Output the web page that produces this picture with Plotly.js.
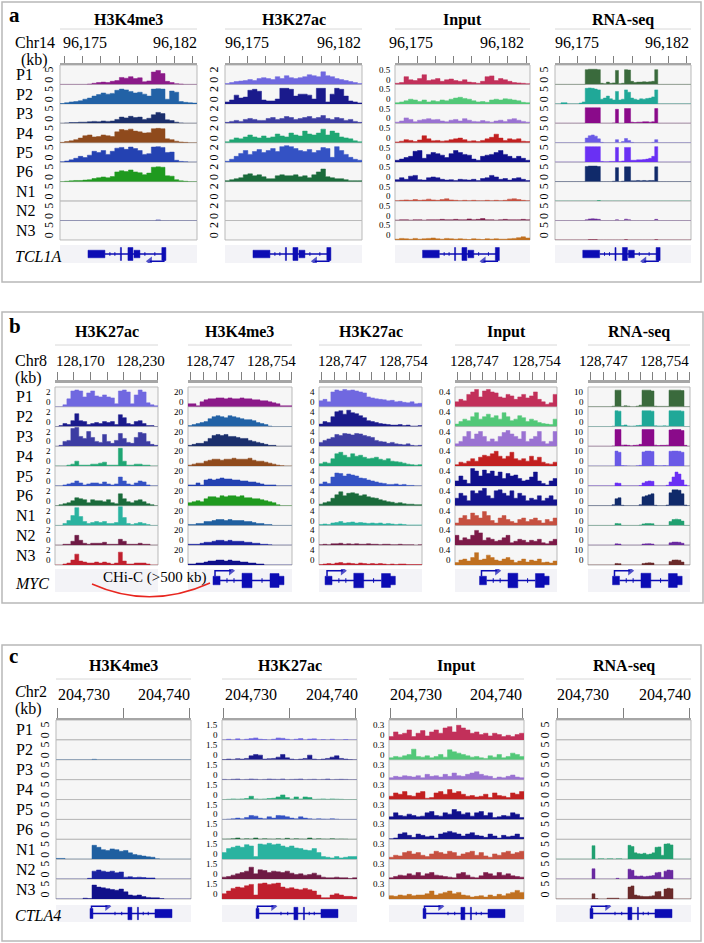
<!DOCTYPE html>
<html><head><meta charset="utf-8">
<script src="https://cdn.plot.ly/plotly-3.0.1.min.js"></script>
<style>html,body{margin:0;padding:0;background:#fff}#chart{width:704px;height:943px}</style>
</head><body><div id="chart"></div>
<script>
// ---------------- DATA ----------------
const rows = ['P1','P2','P3','P4','P5','P6','N1','N2','N3'];

// Panel a (TCL1A, Chr14 96,175-96,182 kb)
const aK4 = [
 [0,0,0,0,0,0,0.1,0.3,0.5,0.6,0.5,0.8,1.0,1.8,1.6,2.0,1.5,1.7,0.7,0.9,3.2,3.6,2.8,0.8,0.5,0.2,0.1,0,0,0],
 [0.1,0.3,0.5,0.6,0.8,1.2,1.5,2.0,2.4,2.8,2.5,2.7,3.5,3.8,3.6,3.2,2.8,3.0,2.5,2.0,3.8,3.9,3.8,1.2,3.3,3.0,0.6,0.4,0.3,0.2],
 [0,0.1,0.2,0.2,0.3,0.3,0.4,0.5,0.4,0.6,0.5,0.6,1.0,1.6,1.4,1.8,1.5,1.6,1.0,1.3,2.2,2.8,2.5,0.9,0.7,0.3,0.1,0,0,0],
 [0.1,0.3,0.5,0.8,1.2,1.8,2.0,1.5,1.6,2.0,1.8,1.6,2.8,3.4,3.2,3.5,3.0,2.8,2.5,2.6,3.6,3.7,3.6,1.0,0.8,0.4,0.2,0.1,0,0],
 [0.1,0.3,0.6,1.0,1.5,1.2,1.8,2.8,2.5,3.0,2.0,2.8,3.6,3.8,3.3,3.9,3.5,3.0,2.0,2.2,3.9,4.0,3.8,2.5,2.6,0.5,0.2,0.1,0,0],
 [0,0.1,0.2,0.3,0.3,0.4,0.5,0.8,1.0,1.2,1.0,1.3,2.5,2.8,2.6,3.0,2.5,2.3,1.8,2.2,3.7,3.8,3.7,1.5,1.4,0.5,0.2,0.1,0,0],
 [],
 [0,0,0,0,0,0,0,0,0,0,0,0,0,0,0,0,0,0,0,0,0,0.15,0,0,0,0,0,0,0,0],
 []
];
const aK27 = [
 [0.1,0.2,0.3,0.35,0.4,0.5,0.4,0.6,0.7,0.6,0.5,0.8,0.6,0.9,0.7,0.6,0.7,0.8,1.0,0.9,0.8,1.3,0.9,0.8,0.6,0.5,0.4,0.3,0.2,0.1],
 [0.2,0.4,0.9,0.6,0.7,1.4,1.5,1.3,0.4,0.3,0.3,0.5,1.6,1.6,1.5,0.8,1.0,1.0,0.9,0.5,1.6,1.6,0.2,1.0,1.6,1.5,0.8,0.3,0.2,0.1],
 [0.1,0.2,0.3,0.2,0.4,0.5,0.4,0.3,0.3,0.5,0.6,0.4,0.5,0.7,0.6,0.4,0.5,0.6,0.7,0.5,0.6,0.8,0.5,0.4,0.6,0.5,0.3,0.4,0.2,0.1],
 [0.1,0.3,0.5,0.4,0.6,0.8,0.6,0.5,0.7,0.5,0.6,0.9,0.7,0.6,1.0,0.8,0.7,1.2,0.9,0.8,1.0,1.4,0.8,1.2,1.0,0.6,0.5,0.4,0.2,0.1],
 [0.1,0.3,0.6,0.9,1.2,0.8,1.1,1.3,1.0,1.2,1.4,1.1,1.6,1.7,1.6,1.4,1.2,1.1,1.3,1.0,1.2,1.5,1.4,0.5,1.6,1.2,0.8,0.5,0.3,0.2],
 [0.1,0.2,0.3,0.4,0.7,0.8,0.6,0.7,0.5,0.3,0.3,0.6,0.7,0.6,0.6,0.7,0.5,0.6,0.4,0.7,1.0,1.3,0.5,0.4,0.3,0.3,0.2,0.1,0.1,0.1],
 [], [], []
];
const aInput = [
 [0.03,0.05,0.2,0.12,0.1,0.15,0.25,0.1,0.12,0.15,0.08,0.12,0.14,0.1,0.08,0.12,0.06,0.05,0.03,0.08,0.2,0.22,0.1,0.15,0.12,0.08,0.05,0.04,0.03,0.02],
 [0.03,0.05,0.08,0.12,0.1,0.06,0.1,0.05,0.08,0.06,0.1,0.08,0.12,0.15,0.17,0.14,0.12,0.08,0.05,0.06,0.04,0.1,0.12,0.1,0.13,0.12,0.1,0.08,0.04,0.03],
 [0.03,0.06,0.14,0.1,0.04,0.08,0.1,0.12,0.09,0.1,0.06,0.04,0.08,0.1,0.06,0.12,0.08,0.05,0.04,0.07,0.05,0.03,0.06,0.08,0.05,0.1,0.12,0.08,0.05,0.03],
 [0.02,0.04,0.08,0.06,0.03,0.07,0.18,0.1,0.05,0.06,0.04,0.05,0.08,0.1,0.12,0.08,0.04,0.05,0.03,0.06,0.1,0.14,0.22,0.12,0.06,0.1,0.08,0.1,0.04,0.03],
 [0.05,0.08,0.12,0.15,0.28,0.3,0.1,0.2,0.25,0.22,0.18,0.12,0.22,0.3,0.25,0.2,0.18,0.08,0.05,0.15,0.18,0.2,0.25,0.3,0.2,0.15,0.1,0.15,0.1,0.05],
 [0.05,0.1,0.06,0.14,0.16,0.05,0.04,0.1,0.12,0.1,0.06,0.04,0.05,0.03,0.06,0.05,0.04,0.06,0.03,0.08,0.1,0.16,0.12,0.06,0.08,0.04,0.08,0.1,0.06,0.03],
 [0.01,0.02,0.03,0.02,0.04,0.02,0.03,0.05,0.03,0.02,0.04,0.06,0.03,0.02,0.01,0.02,0.01,0.02,0.01,0.01,0.02,0.01,0.02,0.01,0.02,0.05,0.06,0.04,0.02,0.01],
 [0.01,0.02,0.02,0.01,0.02,0.02,0.01,0.02,0.02,0.02,0.03,0.02,0.02,0.03,0.02,0.02,0.04,0.02,0.03,0.05,0.02,0.02,0.01,0.02,0.03,0.02,0.02,0.02,0.03,0.02],
 [0.02,0.04,0.03,0.02,0.04,0.02,0.03,0.04,0.05,0.03,0.02,0.04,0.03,0.02,0.03,0.02,0.01,0.03,0.02,0.01,0.03,0.02,0.03,0.02,0.02,0.03,0.04,0.06,0.08,0.05]
];
const aRNA = [
 [0,0,0,0,0,0,0,0,0,0,3.8,3.9,3.9,3.9,3.8,0.3,0.2,0.6,0.3,0.4,3.6,0.2,0.3,3.8,3.7,0.8,0.5,0.6,0.6,0.7,0.6,0.7,0.8,3.8,0,0,0,0,0,0,0,0,0,0,0],
 [0,0,0.3,0.3,0,0,0,0,0.2,0.5,4.0,4.1,4.0,3.8,3.6,1.2,1.5,2.0,1.3,1.0,3.2,1.0,1.2,3.6,3.0,1.5,1.2,1.0,1.3,1.2,1.4,1.5,1.8,3.6,0,0,0,0,0,0,0,0,0,0,0],
 [0,0,0,0,0,0,0,0,0,0,4.0,4.0,4.0,4.0,4.0,0,0,0,0,0.1,3.6,0,0,3.8,3.8,0.3,0.2,0.3,0.3,0.4,0.4,0.3,0.4,3.8,0,0,0,0,0,0,0,0,0,0,0],
 [0,0,0,0,0,0,0,0,0,0,1.2,1.8,2.0,1.7,1.0,0.1,0,0,0,0,0.8,0,0.3,1.1,0.6,0.1,0,0,0,0,0,0,0.1,0.8,0,0,0,0,0,0,0,0,0,0,0],
 [0,0,0,0,0,0,0,0,0,0,4.0,4.0,4.0,4.0,4.0,0.2,0.1,0.1,0.2,0.2,3.8,0.2,0.3,3.8,3.8,0.5,0.5,0.6,0.6,0.7,0.8,1.0,1.5,4.0,0,0,0,0,0,0,0,0,0,0,0],
 [0,0,0,0,0,0,0,0,0,0,3.9,4.0,4.0,4.0,3.9,0,0,0,0,0.1,3.6,0,0.1,3.8,3.8,0.2,0.2,0.3,0.2,0.3,0.2,0.3,0.3,3.8,0,0,0,0,0,0,0,0,0,0,0],
 [0,0,0,0,0,0,0,0,0,0,0,0,0,0,0.15,0,0,0,0,0,0,0,0,0,0,0,0,0,0,0,0,0,0,0,0,0,0,0,0,0,0,0,0,0,0],
 [0,0,0,0,0,0,0,0,0,0,0.2,0.4,0.45,0.4,0.3,0,0,0,0,0,0.2,0,0,0.35,0.2,0,0,0,0,0,0,0,0,0.3,0,0,0,0,0,0,0,0,0,0,0],
 [0,0,0,0,0,0,0,0,0,0,0,0.1,0.1,0.1,0,0,0,0,0,0,0,0,0,0.1,0,0,0,0,0,0,0,0,0,0.1,0,0,0,0,0,0,0,0,0,0,0]
];

// Panel b (MYC, Chr8)
const bK27wide = [
 [0,0,0.2,0.8,1.6,1.7,1.6,1.0,1.4,1.6,1.1,1.0,1.2,1.0,0.9,0.3,1.6,1.7,1.5,0.3,1.2,1.7,1.5,0.4,0.2,0.1],
 [0,0.1,0.3,0.2,0.6,1.3,0.6,0.5,0.2,0.3,0.4,0.3,0.5,0.4,0.5,0.2,1.2,0.9,0.3,0.2,0.5,0.6,0.3,0.1,0.1,0],
 [0,0.1,0.5,0.6,1.8,1.9,1.0,0.8,1.5,0.9,0.5,0.4,1.2,0.5,0.3,0.6,1.3,0.8,0.4,0.3,0.9,1.4,1.3,0.5,0.2,0.1],
 [0,0,0,0.1,0.2,0.5,0.1,0.1,0.1,0.2,0.2,0.3,0.4,0.1,0.1,0.1,1.8,0.5,0.1,0.1,0.2,0.2,0.1,0.1,0,0],
 [0,0,0.1,0.2,0.3,0.5,0.3,0.1,0.2,0.3,0.3,0.2,0.4,0.2,0.1,0.2,0.9,0.5,0.2,0.1,0.3,0.5,0.4,0.1,0,0],
 [0,0.1,0.2,0.3,0.5,0.8,0.7,0.6,0.3,0.6,0.5,0.5,0.4,0.6,0.3,0.2,1.2,0.7,0.4,0.3,0.5,0.6,0.4,0.2,0.1,0],
 [0,0,0.2,0.5,1.0,1.8,0.9,0.4,0.2,0.3,0.4,0.3,0.4,0.2,0.2,0.3,1.9,0.8,0.2,0.1,0.2,0.3,0.2,0.1,0,0],
 [0,0,0.1,0.1,0.4,1.0,0.5,0.2,0.1,0.2,0.2,0.2,0.3,0.1,0.1,0.1,0.6,0.4,0.1,0.1,0.1,0.2,0.1,0.1,0,0],
 [0,0,0.1,0.2,0.5,1.1,0.4,0.3,0.2,0.2,0.3,0.2,0.3,0.2,0.1,0.2,1.3,0.4,0.1,0.1,0.2,0.2,0.2,0.1,0,0]
];
const bK4 = [
 [3,3,1,5,7,8,8,9,9,8,9,8,8,9,8,8,7,7,6,6,5,4,3,1,1,1],
 [1,2,3,4,5,8,10,11,10,9,11,10,9,8,7,7,6,4,3,2,0.5,0,0,0,0,0],
 [1,2,3,3,5,8,11,12,11,12,10,10,9,8,8,6,5,4,3,2,1,1,0,0,0,0],
 [1,2,3,3,5,6,7,7,6,7,7,8,7,7,7,8,6,5,5,4,3,2,1,0.5,0,0],
 [1,1,3,1,6,7,6,7,8,7,7,6,6,5,5,4,4,3,2,1,1,1,0,0,0,0],
 [3,4,5,4,7,9,9,8,10,9,10,10,9,10,8,8,7,7,6,5,4,3,1,0,0,0],
 [1,1,2,2,4,4,5,6,6,5,6,5,5,5,4,4,3,2,2,1,1,0,0,0,0,0],
 [1,1,1,2,3,3,4,5,5,4,5,4,4,4,3,3,2,2,1,1,0.5,0,0,0,0,0],
 [1,1,2,2,3,4,4,5,5,4,5,4,4,3,3,2,2,1,1,0,0,0,0,0,0,0]
];
const bK27 = [
 [1.2,1.5,1.0,3.0,3.4,3.2,3.5,3.3,3.4,3.2,3.0,2.8,2.0,1.8,1.6,1.5,1.4,1.2,1.3,1.0,1.1,0.9,0.8,1.0,0.6,0.7],
 [0.5,1.0,0.8,2.0,3.0,3.2,2.5,3.3,2.8,2.6,2.2,1.8,1.2,1.0,0.8,0.6,0.5,0.4,0.3,0.3,0.4,0.2,0.3,0.1,0.1,0.2],
 [0.8,1.2,1.5,1.8,2.4,2.2,2.6,2.5,2.3,2.6,2.5,2.2,2.0,1.8,1.2,1.0,0.9,0.6,0.8,0.5,0.4,0.3,0.5,0.2,0.1,0.2],
 [0.5,0.8,0.6,1.5,2.5,2.8,2.2,1.8,2.5,2.0,2.2,1.8,1.5,1.6,1.8,1.4,1.2,1.5,1.0,0.9,0.8,0.6,0.4,0.3,0.2,0.3],
 [0.4,0.8,0.5,1.8,2.6,2.5,2.0,2.4,2.2,2.0,1.6,1.5,1.2,1.0,0.8,0.6,0.5,0.3,0.3,0.4,0.2,0.3,0.1,0.1,0,0],
 [0.3,0.6,0.8,1.5,2.2,2.8,2.0,2.5,2.6,2.4,2.0,2.2,1.8,1.6,1.5,1.2,1.0,0.8,0.7,0.5,0.6,0.4,0.3,0.3,0.2,0.2],
 [0.2,0.3,0.2,0.5,0.6,0.8,0.5,0.6,0.7,0.5,0.6,0.5,0.4,0.5,0.4,0.5,0.3,0.4,0.3,0.2,0.3,0.2,0.1,0.1,0.1,0.1],
 [0.1,0.2,0.1,0.3,0.3,0.4,0.2,0.3,0.2,0.3,0.2,0.2,0.3,0.2,0.2,0.1,0.2,0.2,0.1,0.1,0.2,0.1,0.1,0.1,0,0.1],
 [0.1,0.2,0.3,0.2,0.4,0.5,0.3,0.4,0.3,0.2,0.4,0.3,0.2,0.3,0.2,0.3,0.2,0.1,0.2,0.1,0.2,0.2,0.1,0.1,0.1,0.1]
];
const bInput = [
 [0.1,0.15,0.12,0.25,0.3,0.35,0.2,0.32,0.35,0.3,0.28,0.2,0.18,0.25,0.22,0.15,0.2,0.25,0.18,0.22,0.3,0.15,0.1,0.05,0.08,0.25],
 [0.05,0.1,0.15,0.12,0.2,0.28,0.15,0.2,0.25,0.18,0.22,0.15,0.28,0.2,0.12,0.15,0.22,0.18,0.1,0.15,0.12,0.08,0.06,0.05,0.04,0.15],
 [0.05,0.1,0.2,0.3,0.15,0.25,0.3,0.2,0.1,0.15,0.1,0.2,0.28,0.32,0.25,0.2,0.15,0.3,0.1,0.15,0.2,0.3,0.1,0.05,0.1,0.3],
 [0.03,0.08,0.06,0.1,0.15,0.1,0.18,0.22,0.2,0.25,0.3,0.2,0.15,0.2,0.28,0.15,0.12,0.15,0.1,0.2,0.12,0.18,0.08,0.05,0.04,0.08],
 [0.1,0.2,0.12,0.05,0.35,0.3,0.2,0.32,0.25,0.3,0.2,0.28,0.15,0.25,0.2,0.22,0.15,0.1,0.12,0.18,0.28,0.1,0.05,0.02,0.1,0.15],
 [0.15,0.25,0.2,0.1,0.3,0.25,0.3,0.35,0.2,0.15,0.3,0.32,0.25,0.2,0.3,0.15,0.25,0.2,0.1,0.15,0.12,0.2,0.1,0.15,0.2,0.12],
 [0.05,0.15,0.2,0.12,0.25,0.2,0.15,0.28,0.2,0.1,0.05,0.15,0.2,0.12,0.08,0.05,0.12,0.15,0.08,0.12,0.15,0.1,0.05,0.12,0.08,0.15],
 [0.2,0.1,0.15,0.12,0.2,0.3,0.25,0.1,0.15,0.12,0.08,0.1,0.15,0.2,0.05,0.08,0.12,0.1,0.06,0.1,0.08,0.12,0.05,0.03,0.08,0.12],
 [0.05,0.1,0.12,0.08,0.15,0.25,0.1,0.12,0.2,0.15,0.1,0.08,0.12,0.15,0.1,0.05,0.08,0.12,0.06,0.1,0.08,0.12,0.05,0.06,0.04,0.08]
];
const bRNA = [
 [0,0,0,0,0,0,0,0,0.3,8.4,8.4,0.2,0.5,0.3,0,0,0.3,0.8,8.4,8.4,8.4,8.0,0.3,0.2,0.2,0.2,0.2,8.4,8.4,8.4,8.4,8.2,0,0],
 [0,0,0,0,0,0,0,0,0.2,8.0,7.8,0.5,0.8,0.3,0.2,0.3,0.5,0.6,8.0,8.0,8.0,7.8,0.4,0.3,0.3,0.4,0.3,8.0,8.0,8.0,8.0,7.8,0,0],
 [0,0,0,0,0,0,0,0,0.2,8.5,8.5,0.6,0.7,0.5,0.3,0.5,0.6,1.0,8.5,8.5,8.5,8.5,0.6,0.4,0.5,0.5,0.6,8.3,8.5,8.5,8.5,8.0,0.5,0],
 [0,0,0,0,0,0,0,0,0,7.6,7.0,0.3,0.2,0.1,0,0,0.2,0.4,7.2,7.6,7.6,7.4,0.3,0.2,0.2,0.3,0.2,7.5,7.6,7.6,7.5,7.0,0,0],
 [0,0,0,0,0,0,0,0,0,1.5,1.3,0,0,0,0,0,0,0.2,1.5,2.2,2.5,2.3,0,0,0,0,0.3,2.0,4.5,7.0,6.0,3.0,0.5,0],
 [0,0,0,0,0,0,0,0,0.5,3.5,4.0,0.2,0,0,0,0,0,0.5,4.5,5.0,5.5,6.0,0.2,0,0,0,0.3,6.5,8.0,8.0,7.8,6.0,0.3,0],
 [0,0,0,0,0,0,0,0,0,1.0,0.9,0,0,0,0,0,0,0.2,0.8,1.0,1.0,0.9,0,0,0,0,0,2.0,3.0,3.2,3.0,2.2,0,0],
 [0,0,0,0,0,0,0,0,0,0.7,0.6,0,0,0,0,0,0,0,0.6,0.7,0.8,0.6,0,0,0,0,0,1.2,1.6,1.6,1.5,1.0,0,0],
 [0,0,0,0,0,0,0,0,0,0.8,0.7,0,0,0,0,0,0,0,0.8,1.0,1.1,1.0,0,0,0,0,0,1.8,2.5,2.6,2.4,1.5,0,0]
];

// Panel c (CTLA4, Chr2)
const cK4 = [
 [],
 [0,0,0,0,0,0,0,0,0.12,0,0,0,0,0,0,0,0,0,0,0,0,0,0,0,0,0,0,0,0,0],
 [], [], [], [],
 [0.2,0.2,0,0,0,0,0,0,3.5,3.0,2.4,2.2,2.6,2.4,2.0,2.2,1.6,1.2,1.0,0.8,0.6,0.5,0.1,0,0,0,0,0,0,0],
 [0,0,0,0,0,0,0,0.2,2.0,2.3,2.0,1.8,2.0,1.6,1.8,0.5,0.6,0.4,0.5,0.4,0.3,0.3,0,0,0,0,0,0,0,0],
 [0,0,0,0,0,0,0.2,0.1,3.5,3.0,2.8,2.6,2.4,2.2,2.5,1.8,1.0,0.8,1.0,0.6,0.4,0.3,0.3,0.1,0,0,0,0,0,0]
];
const cK27 = [
 [0,0.05,0,0.08,0,0.05,0.1,0.15,0.05,0.02,0,0.05,0.15,0.12,0.05,0,0.05,0.1,0,0.06,0.08,0,0.02,0,0.05,0,0,0.03,0,0],
 [0.02,0.05,0.03,0.08,0.05,0.1,0.3,0.4,0.35,0.05,0.08,0.1,0.2,0.4,0.15,0.05,0.02,0.05,0.1,0.35,0.05,0.02,0.05,0.1,0.2,0.3,0.1,0.05,0.02,0.01],
 [0.02,0,0.03,0.05,0,0.02,0.05,0.03,0,0.02,0.05,0.03,0.02,0.05,0,0.02,0.03,0.05,0,0.02,0.03,0,0.02,0.05,0,0.02,0.03,0.02,0,0],
 [0,0.02,0.05,0.03,0.05,0.08,0.25,0.05,0.03,0.05,0.08,0.1,0.2,0.35,0.15,0.05,0.2,0.05,0.2,0.15,0.02,0.03,0.05,0.02,0.05,0.03,0.02,0,0,0],
 [0,0.02,0.05,0.1,0.05,0.15,0.3,0.25,0.1,0.05,0.2,0.1,0.3,0.28,0.2,0.1,0.05,0.2,0.1,0.05,0.02,0.05,0.03,0.02,0.05,0.02,0,0,0,0],
 [0.02,0.03,0.05,0.1,0.02,0.05,0.03,0.1,0.02,0.05,0.03,0.02,0.05,0.02,0.08,0.02,0.05,0.03,0.02,0.1,0.02,0.05,0.03,0.02,0.05,0.02,0.03,0.02,0,0],
 [0.5,0.8,0.9,1.0,0.9,1.1,1.0,0.2,1.15,1.1,1.2,1.1,1.15,1.0,0.9,1.0,0.85,0.8,0.7,0.65,0.8,0.5,0.2,0.15,0.1,0.2,0.1,0.15,0.2,0.2],
 [0.15,0.2,0.3,0.4,0.5,0.6,0.9,0.4,0.7,0.65,0.5,0.6,0.55,0.5,0.6,0.45,0.35,0.4,0.3,0.35,0.45,0.3,0.15,0.1,0.1,0.15,0.1,0.1,0.05,0.1],
 [0.4,0.6,0.8,0.9,0.85,1.0,1.1,0.3,1.15,1.2,1.1,1.15,1.2,0.9,0.8,0.85,0.75,0.7,0.8,0.7,0.6,0.3,0.1,0.1,0.3,0.4,0.3,0.2,0.2,0.15]
];
const cInput = [
 [0.05,0.12,0.08,0.1,0.15,0.05,0.1,0.14,0.06,0.12,0.15,0.1,0.18,0.2,0.12,0.22,0.18,0.15,0.1,0.12,0.08,0.1,0.06,0.1,0.08,0.05,0.07,0.05,0.08,0.1],
 [0.03,0.05,0.04,0.06,0.08,0.16,0.05,0.04,0.06,0.03,0.05,0.08,0.04,0.15,0.12,0.1,0.08,0.06,0.04,0.05,0.03,0.02,0.06,0.04,0.08,0.03,0.05,0.1,0.08,0.05],
 [0.03,0.05,0.04,0.06,0.05,0.04,0.06,0.03,0.08,0.05,0.06,0.04,0.08,0.05,0.1,0.06,0.05,0.08,0.1,0.12,0.08,0.06,0.05,0.02,0.04,0.03,0.05,0.07,0.04,0.03],
 [0.05,0.1,0.08,0.12,0.06,0.05,0.1,0.12,0.02,0.03,0.1,0.12,0.08,0.15,0.1,0.12,0.08,0.05,0.06,0.04,0.05,0.08,0.03,0.1,0.06,0.05,0.03,0.1,0.08,0.12],
 [0.04,0.1,0.06,0.05,0.08,0.06,0.04,0.05,0.1,0.12,0.06,0.05,0.1,0.08,0.15,0.12,0.08,0.1,0.05,0.1,0.12,0.06,0.1,0.03,0.04,0.06,0.05,0.1,0.08,0.03],
 [0.01,0.02,0.08,0.1,0.06,0.03,0.08,0.06,0.04,0.05,0.02,0.08,0.1,0.12,0.1,0.08,0.05,0.08,0.1,0.06,0.05,0.03,0.08,0.05,0.02,0.06,0.04,0.05,0.08,0.03],
 [0.03,0.06,0.05,0.1,0.12,0.08,0.1,0.06,0.04,0.08,0.12,0.1,0.08,0.12,0.1,0.05,0.08,0.1,0.12,0.06,0.1,0.05,0.03,0.08,0.06,0.1,0.12,0.08,0.1,0.12],
 [0.02,0.04,0.06,0.05,0.08,0.06,0.1,0.05,0.08,0.1,0.06,0.05,0.04,0.03,0.02,0.08,0.1,0.06,0.03,0.02,0.05,0.1,0.08,0.05,0.1,0.06,0.08,0.05,0.04,0.03],
 [0.05,0.04,0.06,0.05,0.07,0.05,0.06,0.06,0.08,0.12,0.06,0.08,0.1,0.12,0.08,0.1,0.06,0.05,0.03,0.04,0.05,0.03,0.06,0.04,0.07,0.05,0.08,0.1,0.13,0.1]
];
const cRNA = [
 [], [], [], [], [], [],
 [0,0,0,0,0,0,0,0,0,0,0,0,3.4,0,0.1,0.1,0,0.1,0.1,0,0.1,0.1,0,0,3.5,3.2,1.6,1.4,1.3,1.5,1.2,1.3,1.6,3.0,3.1,1.0,3.8,3.9,3.6,0,0,0,0,0,0],
 [0,0,0,0,0,0,0,0,0,0,0,0,2.6,0,0,0,0,0,0,0,0.2,0,0,0,2.5,2.2,0.8,0.7,0.8,0.6,0.7,0.8,0.9,1.6,1.7,0.5,2.0,2.3,2.2,0,0,0,0,0,0],
 [0,0,0,0,0,0,0,0,0,0,0,0,1.3,0.1,0,0,0,0.2,0.2,0.2,0.2,0,0,0,3.0,3.3,1.0,0.8,0.7,0.6,0.6,0.7,0.8,1.8,1.9,0.6,2.5,2.7,2.6,0,0,0,0,0,0]
];

// Ruler ticks (kb) and labels
const aTicks = [96175,96176,96177,96178,96179,96180,96181,96182];
const aTickLabels = ['96,175','96,182'];
const bTicksWide = [128170,128180,128190,128200,128210,128220,128230];
const bTickLabelsWide = ['128,170','128,230'];
const bTicks = [128745.0,128746.4,128747.8,128749.2,128750.6,128752.0,128753.4,128754.8,128756.2];
const bTicksShift = [128747.1,128748.5,128749.9,128751.3,128752.7,128754.1,128755.5,128756.9,128758.3];
const bTickLabels = ['128,747','128,754'];
const cTicks = [204730,204735,204740];
const cTickLabels = ['204,730','204,740'];

// Gene models (kb): [start, end, half-height]
const TCL1A_exons = [[96176.30,96177.22,0.42],[96178.06,96178.12,0.72],[96178.47,96178.74,0.72],[96178.80,96179.12,0.42],[96180.31,96180.53,0.72]];
const TCL1A_intron = [96177.22,96180.42];
const TCL1A_marks = [96177.49,96177.76,96179.39,96179.93];
const TCL1A_tssX = [96180.42,96180.42,96179.66];
const TCL1A_tssY = [-0.1,-0.8,-0.8];
const MYC_exons = [[128747.45,128748.23,0.37],[128750.67,128751.78,0.63],[128753.78,128754.78,0.6],[128754.78,128755.33,0.37]];
const MYC_intron = [128748.23,128753.78];
const MYC_marks = [128749.0,128749.78,128752.89];
const MYC_tssX = [128747.67,128747.67,128749.45];
const MYC_tssY = [0.37,0.84,0.84];
const CTLA4_exons = [[204732.43,204732.65,0.59],[204735.3,204735.6,0.73],[204736.02,204736.1,0.73],[204737.35,204738.64,0.49]];
const CTLA4_intron = [204732.65,204737.35];
const CTLA4_marks = [204734.32,204734.83,204736.46,204736.84];
const CTLA4_tssX = [204732.54,204732.54,204733.74];
const CTLA4_tssY = [0.59,0.85,0.85];

// ---------------- STYLE ----------------
const k4Colors = ['#8b1a89','#2262a6','#1b2f6c','#8f4a1c','#2442b2','#1f9a1f','#1f5fa0','#1a22a0','#10108a'];
const k27Colors = ['#7068e0','#1a1a8c','#3d3da3','#1fa673','#3452c4','#1a6b3b','#2ab3a0','#6e1a44','#c0202e'];
const inColors = ['#c2305a','#52c878','#9a72d2','#c22020','#10108c','#14148e','#c65040','#7c1a48','#c07020'];
const rnaColorsA = ['#3a6a3c','#20a898','#8a0a8a','#6a5ae6','#6a30f4','#102a6a','#20a070','#6a2a9a','#8a2a4a'];
const rnaColorsB = ['#3a6a3c','#20a898','#8a0a8a','#6a5ae6','#6a30f4','#102a6a','#20a070','#6a2aa0','#6a2a2a'];
const GENE = '#0c0cb4';
const FONT = 'Liberation Serif, Times New Roman, serif';

const TCL1A = {exons:TCL1A_exons,intron:TCL1A_intron,marks:TCL1A_marks,tssX:TCL1A_tssX,tssY:TCL1A_tssY,dir:'triangle-left'};
const MYC = {exons:MYC_exons,intron:MYC_intron,marks:MYC_marks,tssX:MYC_tssX,tssY:MYC_tssY,dir:'triangle-right'};
const CTLA4 = {exons:CTLA4_exons,intron:CTLA4_intron,marks:CTLA4_marks,tssX:CTLA4_tssX,tssY:CTLA4_tssY,dir:'triangle-right'};

const aK = [96174.78,96182.22], bKw = [128168.8,128230.6], bK = [128744.67,128756.22], bK3 = [128746.77,128758.32], cK = [204729.85,204740.08];

const panels = [
 {letter:'a', top:2, bottom:282, right:701, letterY:15, titleY:20, lineY:29, labelY:43, chrY:42, labelSize:16, rulerY:63.5, tickLen:7,
  trackTop:65, trackH:19.44, geneTop:245, geneBot:263, chr:'Chr14', kbX:20, kbY:60, gene:'TCL1A', geneY:256.5,
  cols:[
   {title:'H3K4me3', x0:60, x1:197, lx:62, rx:198, k:aK, ticks:aTicks, labels:aTickLabels, ymax:5, ylab:'5', angle:-90, data:aK4, colors:k4Colors, gene:TCL1A},
   {title:'H3K27ac', x0:225, x1:362, lx:224, rx:362, k:aK, ticks:aTicks, labels:aTickLabels, ymax:2, ylab:'2', angle:-90, data:aK27, colors:k27Colors, gene:TCL1A},
   {title:'Input', x0:395, x1:530, lx:388, rx:525, k:aK, ticks:aTicks, labels:aTickLabels, ymax:0.5, ylab:'0.5', angle:0, data:aInput, colors:inColors, gene:TCL1A},
   {title:'RNA-seq', x0:555, x1:691, lx:554, rx:690, k:aK, ticks:aTicks, labels:aTickLabels, ymax:5, ylab:'5', angle:-90, data:aRNA, colors:rnaColorsA, gene:TCL1A}
  ]},
 {letter:'b', top:312, bottom:603, right:703, letterY:326, titleY:331.5, lineY:345, labelY:360.5, chrY:360, labelSize:15, rulerY:381, tickLen:8,
  trackTop:387, trackH:19.78, geneTop:569, geneBot:592, chr:'Chr8', kbX:14, kbY:378, gene:'MYC', geneY:583,
  cols:[
   {title:'H3K27ac', x0:55, x1:158, lx:55, rx:166, k:bKw, ticks:bTicksWide, labels:bTickLabelsWide, ymax:2, ylab:'2', angle:0, data:bK27wide, colors:k27Colors, gene:null},
   {title:'H3K4me3', x0:188, x1:292, lx:185, rx:297, k:bK, ticks:bTicks, labels:bTickLabels, ymax:20, ylab:'20', angle:0, data:bK4, colors:k4Colors, gene:MYC},
   {title:'H3K27ac', x0:319, x1:422, lx:317, rx:429, k:bK3, ticks:bTicksShift, labels:bTickLabels, ymax:4, ylab:'4', angle:0, data:bK27, colors:k27Colors, gene:MYC},
   {title:'Input', x0:455, x1:557, lx:449, rx:562, k:bK, ticks:bTicks, labels:bTickLabels, ymax:0.4, ylab:'0.4', angle:0, data:bInput, colors:inColors, gene:MYC},
   {title:'RNA-seq', x0:588, x1:690, lx:578, rx:690, k:bK, ticks:bTicks, labels:bTickLabels, ymax:10, ylab:'10', angle:0, data:bRNA, colors:rnaColorsB, gene:MYC}
  ]},
 {letter:'c', top:645, bottom:941, right:701, letterY:656, titleY:665.5, lineY:679, labelY:694, chrY:691, labelSize:16, rulerY:718.5, tickLen:10,
  trackTop:720, trackH:19.89, geneTop:905, geneBot:922, chr:'<i>C</i>hr2', kbX:14, kbY:709, gene:'CTLA4', geneY:915,
  cols:[
   {title:'H3K4me3', x0:56, x1:191, lx:57, rx:191, k:cK, ticks:cTicks, labels:cTickLabels, ymax:5, ylab:'5', angle:-90, data:cK4, colors:k4Colors, gene:CTLA4},
   {title:'H3K27ac', x0:222, x1:357, lx:224, rx:359, k:cK, ticks:cTicks, labels:cTickLabels, ymax:1.5, ylab:'1.5', angle:0, data:cK27, colors:k27Colors, gene:CTLA4},
   {title:'Input', x0:389, x1:524, lx:389, rx:523, k:cK, ticks:cTicks, labels:cTickLabels, ymax:0.3, ylab:'0.3', angle:0, data:cInput, colors:inColors, gene:CTLA4},
   {title:'RNA-seq', x0:556, x1:691, lx:556, rx:692, k:cK, ticks:cTicks, labels:cTickLabels, ymax:5, ylab:'5', angle:-90, data:cRNA, colors:rnaColorsB, gene:CTLA4}
  ]}
];

// ---------------- BUILD ----------------
const W = 704, H = 943;
const PX = v => v / W, PY = v => 1 - v / H;
const layout = {width:W, height:H, margin:{l:0,r:0,t:0,b:0,pad:0}, paper_bgcolor:'#ffffff', plot_bgcolor:'#f6f6f6',
  showlegend:false, hovermode:false, dragmode:false, annotations:[], shapes:[]};
const traces = [];
let nx = 0, ny = 0;

function ann(text, x, y, size, opt) {
  layout.annotations.push(Object.assign({text:text, x:PX(x), y:PY(y), xref:'paper', yref:'paper', showarrow:false,
    xanchor:'left', yanchor:'middle', borderpad:0, font:{family:FONT, size:size, color:'#000'}}, opt || {}));
}

function drawColumn(P, c) {
  nx++;
  const xa = nx === 1 ? 'x' : 'x' + nx;
  layout[nx === 1 ? 'xaxis' : 'xaxis' + nx] = {
    domain:[PX(c.x0), PX(c.x1)], range:[c.k[0], c.k[1]], anchor:'free', position:PY(P.rulerY), side:'top',
    showline:true, linecolor:'#a6a6a6', linewidth:2.5, ticks:'outside', ticklen:P.tickLen, tickwidth:1, tickcolor:'#808080',
    tickmode:'array', tickvals:c.ticks, showticklabels:false, showgrid:false, zeroline:false, fixedrange:true
  };
  ann('<b>' + c.title + '</b>', (c.x0 + c.x1) / 2, P.titleY, 16, {xanchor:'center'});
  layout.shapes.push({type:'line', xref:'paper', yref:'paper', x0:PX(c.x0), x1:PX(c.x1), y0:PY(P.lineY), y1:PY(P.lineY), line:{color:'#d8d8d8', width:1}});
  ann(c.labels[0], c.lx, P.labelY, P.labelSize, {xanchor:'left'});
  ann(c.labels[1], c.rx, P.labelY, P.labelSize, {xanchor:'right'});

  c.data.forEach((vals, i) => {
    ny++;
    const ya = ny === 1 ? 'y' : 'y' + ny;
    const yt = P.trackTop + i * P.trackH, yb = yt + P.trackH;
    layout[ny === 1 ? 'yaxis' : 'yaxis' + ny] = {
      domain:[PY(yb), PY(yt)], range:[0, c.ymax], anchor:xa, tickmode:'array', tickvals:[0, c.ymax],
      showticklabels:false, ticks:'', showgrid:false, zeroline:false, showline:false, fixedrange:true
    };
    // data-range labels: max in the upper part of the track, 0 in the lower part
    if (c.angle !== 0) {
      ann(c.ylab, c.x0 - 3, yt + 4.6, 12, {xanchor:'right', yanchor:'middle', textangle:c.angle});
      ann('0', c.x0 - 3, yb - 4.6, 12, {xanchor:'right', yanchor:'middle', textangle:c.angle});
    } else {
      ann(c.ylab, c.x0 - 3, yt + P.trackH * 0.25, 9, {xanchor:'right', yanchor:'middle'});
      ann('0', c.x0 - 3, yb - P.trackH * 0.25, 9, {xanchor:'right', yanchor:'middle'});
    }
    layout.shapes.push({type:'rect', xref:xa + ' domain', yref:ya + ' domain', x0:0, x1:1, y0:0, y1:1,
      line:{color:'#b9b9b9', width:1}, fillcolor:'#f6f6f6', layer:'below'});
    const n = vals.length;
    let xs = [], ys = [];
    if (n === 0) { xs = [c.k[0], c.k[1]]; ys = [0, 0]; }
    else {
      const w = (c.k[1] - c.k[0]) / n;
      vals.forEach((v, j) => { xs.push(c.k[0] + j * w); ys.push(v); });
      xs.push(c.k[1]); ys.push(vals[n - 1]);
    }
    traces.push({type:'scatter', x:xs, y:ys, xaxis:xa, yaxis:ya, mode:'lines',
      line:{shape:'hv', width:n === 0 ? 0 : 0.5, color:c.colors[i]}, fill:'tozeroy', fillcolor:c.colors[i], hoverinfo:'skip'});
  });

  // gene track
  ny++;
  const ga = ny === 1 ? 'y' : 'y' + ny;
  layout[ny === 1 ? 'yaxis' : 'yaxis' + ny] = {
    domain:[PY(P.geneBot), PY(P.geneTop)], range:[-1, 1], anchor:xa, showticklabels:false, ticks:'',
    showgrid:false, zeroline:false, showline:false, fixedrange:true
  };
  layout.shapes.push({type:'rect', xref:xa + ' domain', yref:ga + ' domain', x0:0, x1:1, y0:0, y1:1,
    line:{width:0}, fillcolor:'#f3f3f7', layer:'below'});
  traces.push({type:'scatter', x:[c.k[0], c.k[1]], y:[0, 0], xaxis:xa, yaxis:ga, mode:'lines', line:{width:0, color:'#f3f3f7'}, hoverinfo:'skip'});
  const g = c.gene;
  if (g) {
    traces.push({type:'scatter', x:g.intron, y:[0, 0], xaxis:xa, yaxis:ga, mode:'lines', line:{color:GENE, width:1.5}, hoverinfo:'skip'});
    const mx = [], my = [];
    g.marks.forEach(t => { mx.push(t, t, null); my.push(-0.2, 0.2, null); });
    traces.push({type:'scatter', x:mx, y:my, xaxis:xa, yaxis:ga, mode:'lines', line:{color:GENE, width:1}, hoverinfo:'skip'});
    const ex = [], ey = [];
    g.exons.forEach(e => { ex.push(e[0], e[0], e[1], e[1], e[0], null); ey.push(-e[2], e[2], e[2], -e[2], -e[2], null); });
    traces.push({type:'scatter', x:ex, y:ey, xaxis:xa, yaxis:ga, mode:'lines', fill:'toself', fillcolor:GENE, line:{color:GENE, width:0.5}, hoverinfo:'skip'});
    traces.push({type:'scatter', x:g.tssX, y:g.tssY, xaxis:xa, yaxis:ga, mode:'lines+markers', line:{color:GENE, width:1.5},
      marker:{symbol:['circle','circle',g.dir], size:[0,0,8], color:GENE, line:{width:0}}, hoverinfo:'skip'});
  }
}

panels.forEach(P => {
  layout.shapes.push({type:'rect', xref:'paper', yref:'paper', x0:PX(2), x1:PX(P.right), y0:PY(P.bottom), y1:PY(P.top),
    line:{color:'#b8b8b8', width:1.5}, fillcolor:'rgba(0,0,0,0)', layer:'below'});
  ann('<b>' + P.letter + '</b>', 8, P.letterY, 21);
  ann(P.chr, 14, P.chrY, 16);
  ann('(kb)', P.kbX, P.kbY, 16);
  rows.forEach((r, i) => ann(r, 15, P.trackTop + (i + 0.5) * P.trackH, 16));
  ann('<i>' + P.gene + '</i>', 14, P.geneY, 16);
  P.cols.forEach(c => drawColumn(P, c));
});

// CHi-C loop in panel b
layout.shapes.push({type:'path', xref:'paper', yref:'paper',
  path:'M ' + PX(92) + ',' + PY(584) + ' Q ' + PX(150) + ',' + PY(610) + ' ' + PX(210) + ',' + PY(583),
  line:{color:'#e8261f', width:1.5}});
ann('CHi-C (&gt;500 kb)', 154, 577, 15, {xanchor:'center'});

Plotly.newPlot('chart', traces, layout, {staticPlot:true, displayModeBar:false});
</script>
</body></html>
